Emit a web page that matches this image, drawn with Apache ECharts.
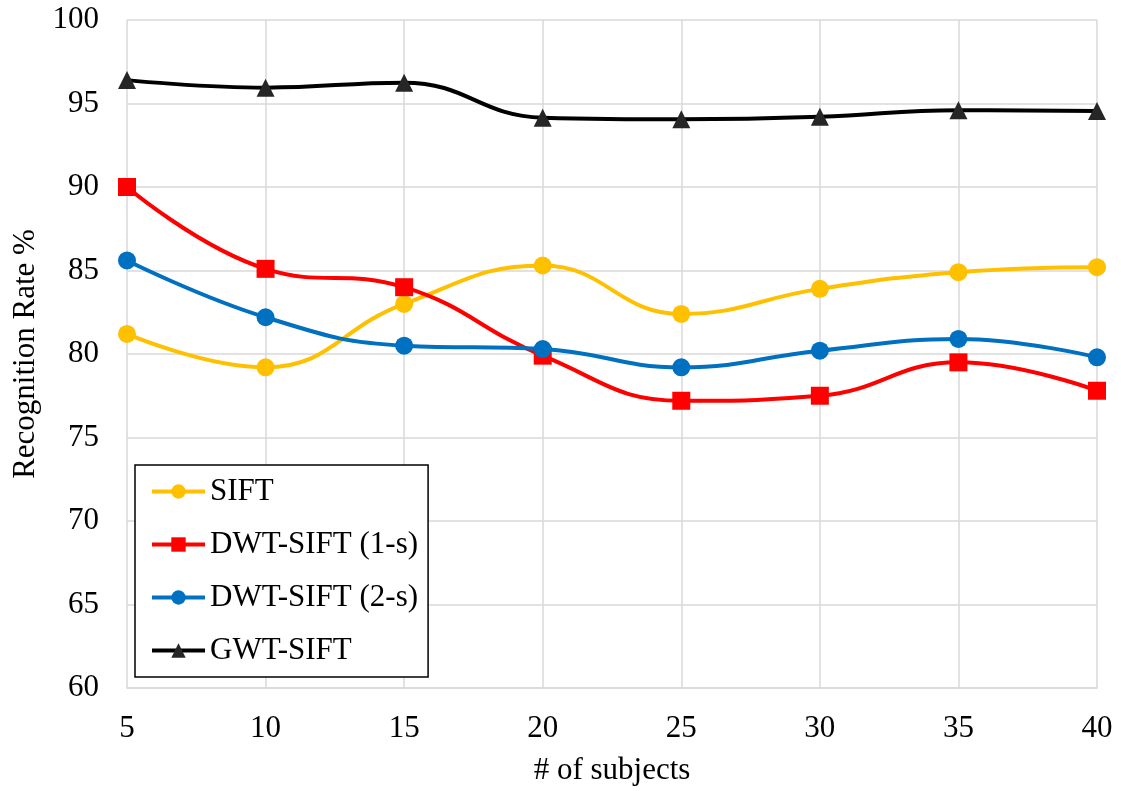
<!DOCTYPE html>
<html>
<head>
<meta charset="utf-8">
<style>
  html, body { margin: 0; padding: 0; background: #ffffff; }
  #chart { width: 1121px; height: 791px; }
</style>
<script src="https://cdn.jsdelivr.net/npm/echarts@6/dist/echarts.min.js"></script>
</head>
<body>
<div id="chart"></div>
<script>
// Number of subjects on the x axis
const subjects = ['5', '10', '15', '20', '25', '30', '35', '40'];

// Recognition rate (%) for each method
const sift    = [81.2, 79.2, 83.0, 85.3, 82.4, 83.9, 84.9, 85.2];
const dwt1s   = [90.0, 85.1, 84.0, 79.9, 77.2, 77.5, 79.5, 77.8];
const dwt2s   = [85.6, 82.2, 80.5, 80.3, 79.2, 80.2, 80.9, 79.8];
const gwtSift = [96.4, 95.95, 96.25, 94.15, 94.05, 94.2, 94.6, 94.55];

const seriesNames = ['SIFT', 'DWT-SIFT (1-s)', 'DWT-SIFT (2-s)', 'GWT-SIFT'];

const FONT = '"Liberation Serif", "DejaVu Serif", serif';
const GRID_COLOR = '#d9d9d9';

function lineSeries(name, data, color, symbol, symbolColor) {
  return {
    name: name,
    type: 'line',
    data: data,
    smooth: 0.45,
    symbol: symbol,
    symbolSize: 18,
    showSymbol: true,
    lineStyle: { color: color, width: 4 },
    itemStyle: { color: symbolColor || color, borderColor: symbolColor || color, borderWidth: 0 },
    emphasis: { disabled: true },
    animation: false
  };
}

const chart = echarts.init(document.getElementById('chart'), null, { renderer: 'canvas' });

chart.setOption({
  backgroundColor: '#ffffff',
  animation: false,
  grid: { left: 127, right: 24, top: 20, bottom: 101, containLabel: false },
  xAxis: {
    type: 'category',
    data: subjects,
    boundaryGap: false,
    name: '# of subjects',
    nameLocation: 'middle',
    nameGap: 67,
    nameTextStyle: { fontFamily: FONT, fontSize: 31, color: '#000' },
    axisLine: { show: true, lineStyle: { color: GRID_COLOR, width: 1.5 } },
    axisTick: { show: false },
    axisLabel: { margin: 25, fontFamily: FONT, fontSize: 31, color: '#000' },
    splitLine: { show: true, lineStyle: { color: GRID_COLOR, width: 1.5 } }
  },
  yAxis: {
    type: 'value',
    min: 60,
    max: 100,
    interval: 5,
    name: 'Recognition Rate %',
    nameLocation: 'middle',
    nameGap: 84,
    nameTextStyle: { fontFamily: FONT, fontSize: 31, color: '#000' },
    axisLine: { show: false },
    axisTick: { show: false },
    axisLabel: { margin: 28, fontFamily: FONT, fontSize: 31, color: '#000' },
    splitLine: { show: true, lineStyle: { color: GRID_COLOR, width: 1.5 } }
  },
  legend: {
    orient: 'vertical',
    left: 135,
    top: 465,
    width: 298,
    padding: [11, 10, 11, 15],
    itemWidth: 53,
    itemHeight: 18,
    itemGap: 22,
    borderColor: '#000',
    borderWidth: 1.5,
    backgroundColor: '#ffffff',
    lineStyle: { width: 4 },
    textStyle: { fontFamily: FONT, fontSize: 31, color: '#000' },
    data: seriesNames
  },
  series: [
    lineSeries(seriesNames[0], sift, '#FFC000', 'circle'),
    lineSeries(seriesNames[1], dwt1s, '#FF0000', 'rect'),
    lineSeries(seriesNames[2], dwt2s, '#0070C0', 'circle'),
    lineSeries(seriesNames[3], gwtSift, '#000000', 'triangle', '#262626')
  ]
});
</script>
</body>
</html>
